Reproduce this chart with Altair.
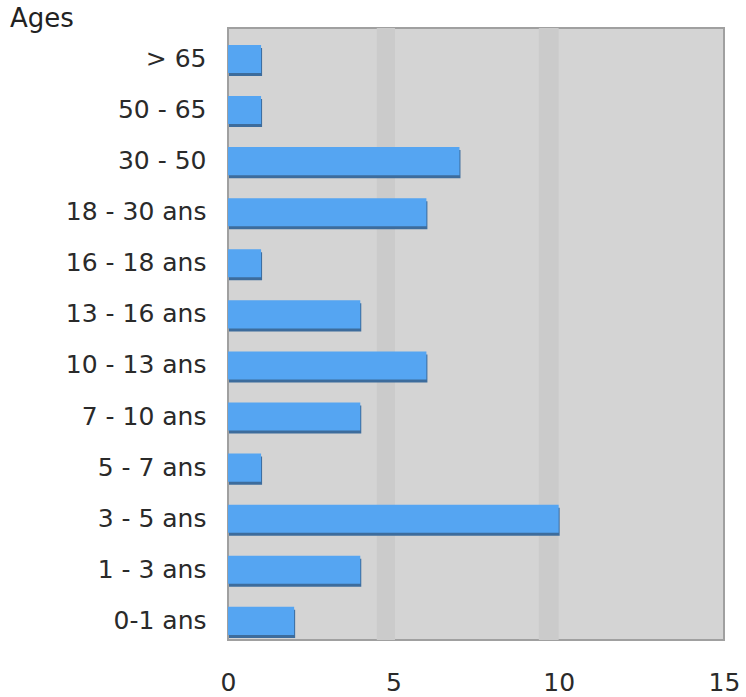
import altair as alt
import pandas as pd

categories = ["> 65", "50 - 65", "30 - 50", "18 - 30 ans", "16 - 18 ans", "13 - 16 ans",
              "10 - 13 ans", "7 - 10 ans", "5 - 7 ans", "3 - 5 ans", "1 - 3 ans", "0-1 ans"]
values = [1, 1, 7, 6, 1, 4, 6, 4, 1, 10, 4, 2]
x_ticks = [0, 5, 10, 15]
band_start = [4.5, 9.4]
band_end = [5.05, 10.0]

df = pd.DataFrame({"age": categories, "n": values})
bands = pd.DataFrame({"x0": band_start, "x1": band_end})

FONT = "DejaVu Sans"
xscale = alt.Scale(domain=[0, 15], nice=False, zero=True)
yscale = alt.Scale(domain=categories, paddingInner=0.45, paddingOuter=0.215, align=0.77)

band_layer = alt.Chart(bands).mark_rect(color="#cbcbcb").encode(
    x=alt.X("x0:Q", scale=xscale, axis=alt.Axis(values=x_ticks, title=None, grid=False,
            domain=False, ticks=False, labelFontSize=25, labelFont=FONT, labelFlush=False,
            labelColor="#2a2a2a", labelPadding=30)),
    x2="x1:Q",
    y=alt.value(0), y2=alt.value(612),
)

shadow = alt.Chart(df).mark_bar(color="#3d6c9c", yOffset=3, xOffset=1).encode(
    x=alt.X("n:Q", scale=xscale),
    y=alt.Y("age:N", scale=yscale, sort=categories),
)

bars = alt.Chart(df).mark_bar(color="#55a5f2").encode(
    x=alt.X("n:Q", scale=xscale),
    y=alt.Y("age:N", scale=yscale, sort=categories,
            axis=alt.Axis(title=None, domain=False, ticks=False, labelFontSize=25,
                          labelFont=FONT, labelColor="#2a2a2a", labelPadding=22)),
)

chart = alt.layer(band_layer, shadow, bars).properties(
    width=496, height=612,
    background="white",
    autosize=alt.AutoSizeParams(type="none"),
    padding={"left": 228, "top": 28, "right": 22, "bottom": 57},
    title=alt.TitleParams("Ages", anchor="start", frame="group", dx=-218, offset=-4,
                          fontSize=26, font=FONT, fontWeight="normal", color="#222222"),
).configure_view(fill="#d4d4d4", stroke="#a0a0a0", strokeWidth=2)

chart.save("out.html", embed_options={"renderer": "svg", "actions": False})
